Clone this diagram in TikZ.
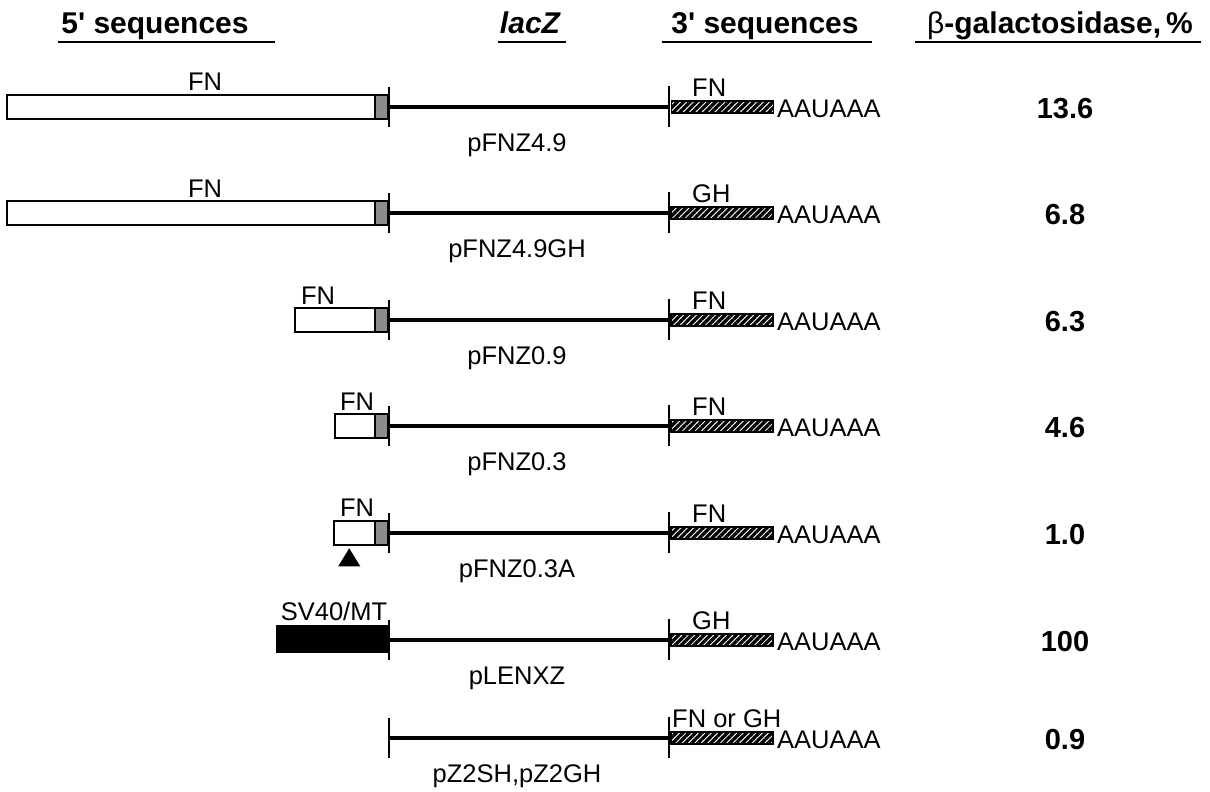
\documentclass[tikz,border=0pt]{standalone}
\usepackage{fontspec}
\setmainfont{Liberation Sans}
\usetikzlibrary{patterns.meta}
\begin{document}
\begin{tikzpicture}[x=1pt,y=-1pt,
  lbl/.style={font=\fontsize{25.5}{28}\selectfont, inner sep=0pt},
  hdr/.style={font=\fontsize{30}{34}\selectfont\bfseries, inner sep=0pt, anchor=base},
  val/.style={font=\fontsize{29}{32}\selectfont\bfseries, inner sep=0pt, anchor=base},
  ulin/.style={line width=2.5pt},
  fivebox/.style={draw, line width=2.5pt, fill=white, inner sep=0pt, minimum height=24pt, anchor=east},
  shadebox/.style={draw, line width=2.5pt, fill=black!45, inner sep=0pt, minimum width=13pt, minimum height=24pt, anchor=east},
  blackbox/.style={draw, line width=1pt, fill=black, inner sep=0pt, minimum height=27pt, anchor=east},
  hatchbox/.style={draw, line width=1.5pt, pattern={Lines[angle=45,distance=4.5pt,line width=3.3pt]}, inner sep=0pt, minimum width=102pt, minimum height=12pt, anchor=west},
  tick/.style={line width=2.2pt},
  gene/.style={line width=3.5pt},
]
\useasboundingbox (0,0) rectangle (1210,792);

% headers
\node[hdr] (h5) at (155,34) {5\textquotesingle{} sequences};
\node[hdr, font=\fontsize{30}{34}\selectfont\bfseries\itshape] (hz) at (530,34) {lacZ};
\node[hdr] (h3) at (765,34) {3\textquotesingle{} sequences};
\node[hdr] (hb) at (1060,34) {{\mdseries β}-galactosidase,\,\%};
\draw[ulin] (58,42) -- (275,42);
\draw[ulin] (498,42) -- (566,42);
\draw[ulin] (662,42) -- (872,42);
\draw[ulin] (915,42) -- (1201,42);

% common parts of each row
\foreach \i/\y/\tl/\tx/\nm/\v in {1/107/FN/692/pFNZ4.9/13.6, 2/213/GH/692/pFNZ4.9GH/6.8, 3/320/FN/692/pFNZ0.9/6.3, 4/426/FN/692/pFNZ0.3/4.6, 5/533/FN/692/pFNZ0.3A/1.0, 6/640/GH/692/pLENXZ/100, 7/738/{FN or GH}/672/{pZ2SH,pZ2GH}/0.9}{
  \coordinate (a\i) at (389,\y);
  \coordinate (b\i) at (669,\y);
  \draw[gene] (a\i) -- (b\i);
  \draw[tick] ([yshift=-20pt]a\i) -- ([yshift=20pt]a\i);
  \draw[tick] ([yshift=-20pt]b\i) -- ([yshift=21pt]b\i);
  \node[hatchbox] (h\i) at ([xshift=1pt]b\i) {};
  \node[lbl, anchor=base west] (p\i) at (777,\y+10) {AAUAAA};
  \node[lbl, anchor=base west] (t\i) at (\tx,\y-10.5) {\tl};
  \node[lbl, anchor=base] (n\i) at (517,\y+44) {\nm};
  \node[val] (v\i) at (1065,\y+11) {\v};
}

% 5' regions
\node[fivebox, minimum width=368pt] (f1) at (376,107) {};
\node[shadebox] (s1) at (389,107) {};
\node[lbl, anchor=base] (l1) at (205,91) {FN};

\node[fivebox, minimum width=368pt] (f2) at (376,213) {};
\node[shadebox] (s2) at (389,213) {};
\node[lbl, anchor=base] (l2) at (205,197) {FN};

\node[fivebox, minimum width=80pt] (f3) at (376,320) {};
\node[shadebox] (s3) at (389,320) {};
\node[lbl, anchor=base] (l3) at (318,304) {FN};

\node[fivebox, minimum width=40pt] (f4) at (376,426) {};
\node[shadebox] (s4) at (389,426) {};
\node[lbl, anchor=base] (l4) at (357,410) {FN};

\node[fivebox, minimum width=41pt] (f5) at (376,533) {};
\node[shadebox] (s5) at (389,533) {};
\node[lbl, anchor=base] (l5) at (357,516) {FN};
\fill ([xshift=-5pt]f5.south) ++(-11,20) -- ++(11,-18) -- ++(11,18) -- cycle;

\node[blackbox, minimum width=112pt] (f6) at (389,639) {};
\node[lbl, anchor=base] (l6) at (334,620) {SV40/MT};

% redraw ticks above boxes
\foreach \i in {1,...,6}{
  \draw[tick] ([yshift=-20pt]a\i) -- ([yshift=20pt]a\i);
}
\end{tikzpicture}
\end{document}
